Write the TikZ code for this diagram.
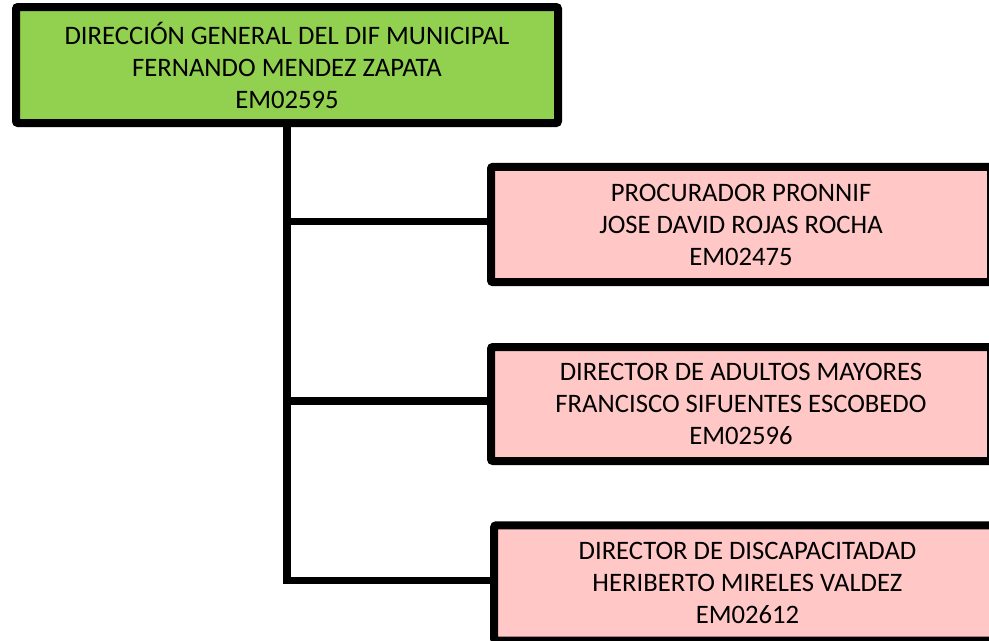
\documentclass[tikz,border=0pt]{standalone}
\usepackage{fontspec}
\setmainfont{Carlito}
\definecolor{boxgreen}{RGB}{146,208,80}
\definecolor{boxpink}{RGB}{255,200,198}
\begin{document}
\begin{tikzpicture}[x=0.75pt,y=-0.75pt,
  orgbox/.style={draw=black, line width=6pt, rounded corners=1.5pt, align=center,
    inner sep=0pt, font=\fontsize{20}{24}\selectfont, text=black},
  conn/.style={draw=black, line width=5.4pt, line join=miter}]
\useasboundingbox (0,0) rectangle (989,640);
\clip (0,0) rectangle (989,640);
\node[orgbox, fill=boxgreen, minimum width=406.5pt, minimum height=87pt] (top) at (287,65)
  {DIRECCIÓN GENERAL DEL DIF MUNICIPAL\\FERNANDO MENDEZ ZAPATA\\EM02595};
\node[orgbox, fill=boxpink, minimum width=375pt, minimum height=86.5pt] (b1) at (741,224.5)
  {PROCURADOR PRONNIF\\JOSE DAVID ROJAS ROCHA\\EM02475};
\node[orgbox, fill=boxpink, minimum width=375pt, minimum height=85.5pt] (b2) at (741,404)
  {DIRECTOR DE ADULTOS MAYORES\\FRANCISCO SIFUENTES ESCOBEDO\\EM02596};
\node[orgbox, fill=boxpink, minimum width=380pt, minimum height=86.5pt] (b3) at (747.5,583)
  {DIRECTOR DE DISCAPACITADAD\\HERIBERTO MIRELES VALDEZ\\EM02612};
\coordinate (c3) at ([yshift=2pt]b3.west);
\coordinate (c1) at ([yshift=2.5pt]b1.west);
\coordinate (c2) at ([yshift=2.2pt]b2.west);
\draw[conn] (top.south) -- (top.south |- c3) -- (c3);
\draw[conn] (top.south |- c1) -- (c1);
\draw[conn] (top.south |- c2) -- (c2);
\end{tikzpicture}
\end{document}
